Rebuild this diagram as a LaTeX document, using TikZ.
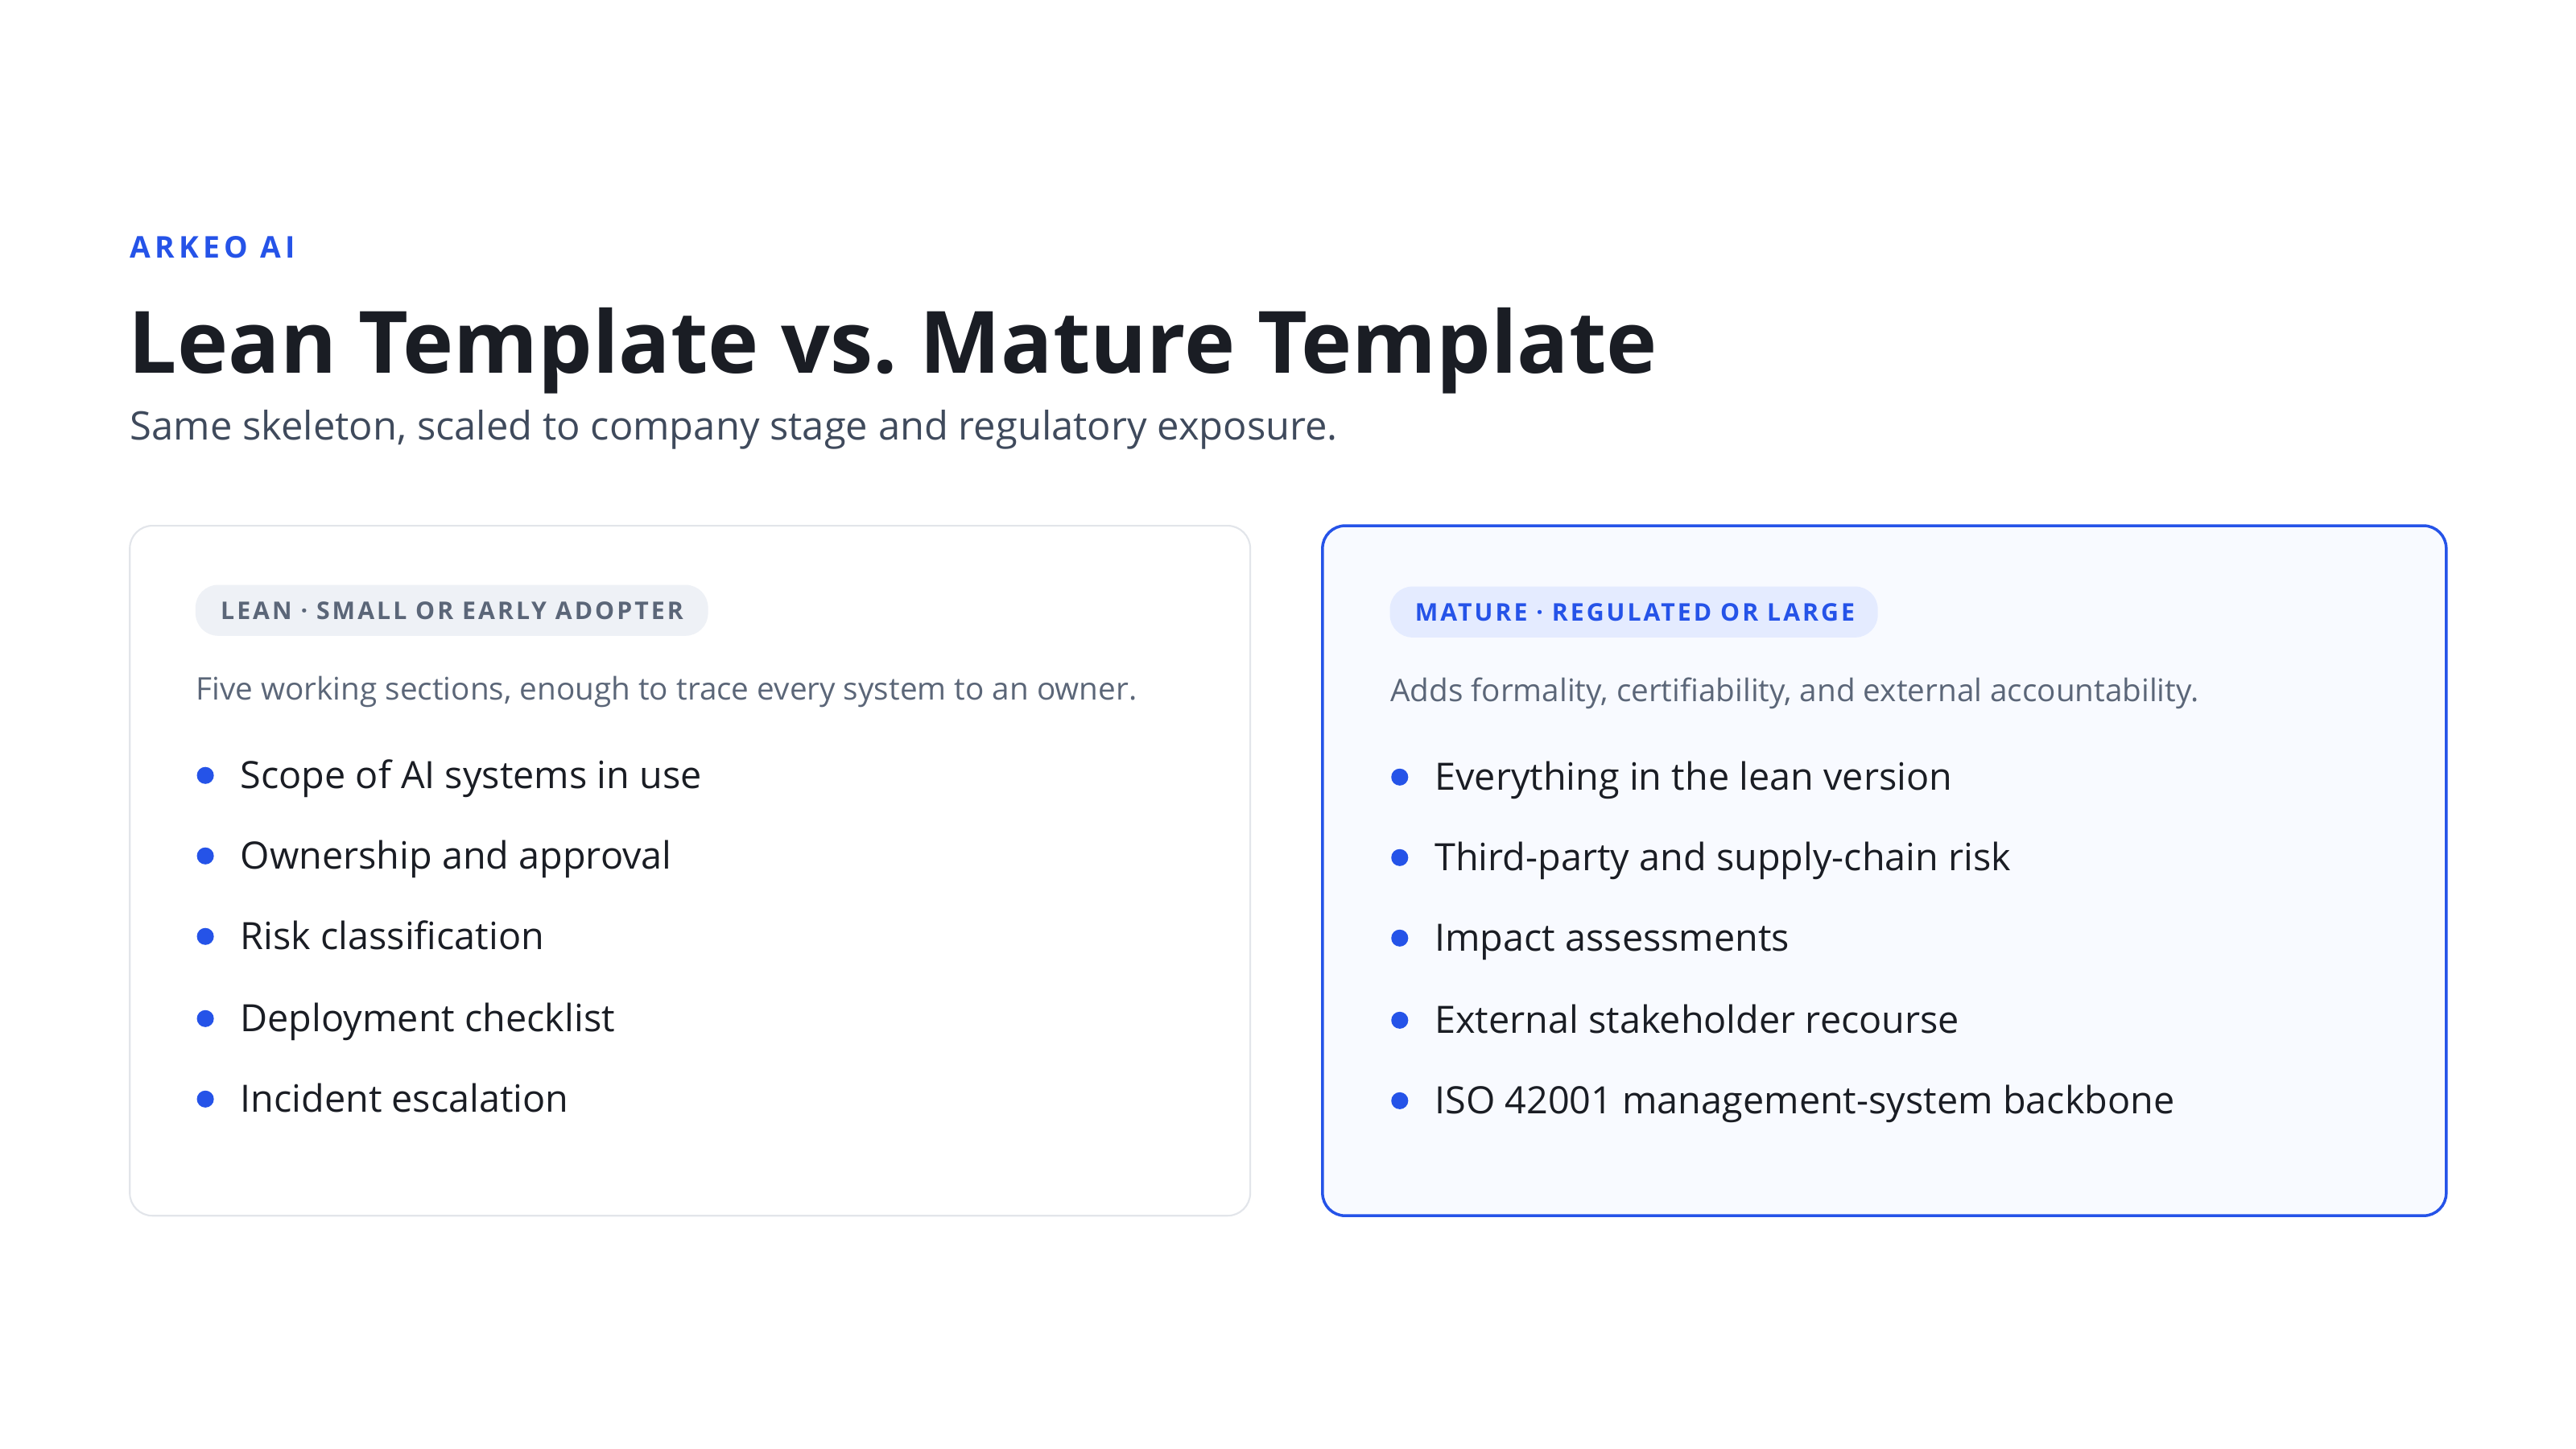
\documentclass[tikz,border=0pt]{standalone}
\usepackage{fontspec}
\setmainfont{Open Sans}
\newfontfamily\spaced[LetterSpace=10]{Open Sans}
\newfontfamily\widespaced[LetterSpace=14]{Open Sans}
\usetikzlibrary{positioning}
\definecolor{brandblue}{HTML}{2553E8}
\definecolor{ink}{HTML}{1A1D24}
\definecolor{slate}{HTML}{3F4A5C}
\definecolor{muted}{HTML}{5B6678}
\definecolor{cardline}{HTML}{E2E5EA}
\definecolor{pillgray}{HTML}{EEF1F6}
\definecolor{pillblue}{HTML}{E4EBFF}
\definecolor{tintbg}{HTML}{F8FAFF}
\begin{document}
\begin{tikzpicture}[x=0.020408cm,y=-0.020408cm,
    card/.style={rounded corners=8pt, line width=0.6pt},
    pill/.style={rounded corners=8pt, inner sep=0pt},
    txt/.style={anchor=base west, inner sep=0pt},
    dot/.style={circle, fill=brandblue, inner sep=0pt, minimum size=6pt}]

  % Canvas
  \useasboundingbox (0,0) rectangle (1568,882);

  % Heading
  \node[txt, text=brandblue] (brand) at (79,157) {\widespaced\fontsize{10.6}{12}\selectfont\bfseries ARKEO AI};
  \node[txt, text=ink] (title) at (78,227) {\fontsize{30.4}{36}\selectfont\bfseries Lean Template vs.\ Mature Template};
  \node[txt, text=slate] (subtitle) at (79,268) {\fontsize{13.9}{16}\selectfont Same skeleton, scaled to company stage and regulatory exposure.};

  % Cards
  \draw[card, draw=cardline, fill=white] (79,320) rectangle (761,740);
  \draw[card, draw=brandblue, fill=tintbg, line width=1pt] (805,320) rectangle (1489,740);

  % Pills
  \fill[pill, pillgray] (119,356) rectangle (431,387);
  \node[txt, text=muted] (leanpill) at (134,377) {\spaced\fontsize{8.6}{10}\selectfont\bfseries LEAN · SMALL OR EARLY ADOPTER};
  \fill[pill, pillblue] (846,357) rectangle (1143,388);
  \node[txt, text=brandblue] (maturepill) at (861,378) {\spaced\fontsize{8.6}{10}\selectfont\bfseries MATURE · REGULATED OR LARGE};

  % Descriptions
  \node[txt, text=muted] (leandesc) at (119,426) {\fontsize{11}{13}\selectfont Five working sections, enough to trace every system to an owner.};
  \node[txt, text=muted] (maturedesc) at (846,427) {\fontsize{11}{13}\selectfont Adds formality, certifiability, and external accountability.};

  % Lean bullets
  \foreach \y/\item [count=\i] in {472/Scope of AI systems in use, 521/Ownership and approval,
      570/Risk classification, 620/Deployment checklist, 669/Incident escalation}{
    \node[dot] (leandot\i) at (125,\y) {};
    \node[txt, text=ink] (leanitem\i) at (146,\y+8) {\fontsize{13.3}{16}\selectfont \item};
  }

  % Mature bullets
  \foreach \y/\item [count=\i] in {473/Everything in the lean version, 522/Third-party and supply-chain risk,
      571/Impact assessments, 621/External stakeholder recourse, 670/ISO 42001 management-system backbone}{
    \node[dot] (maturedot\i) at (852,\y) {};
    \node[txt, text=ink] (matureitem\i) at (873,\y+8) {\fontsize{13.3}{16}\selectfont \item};
  }

\end{tikzpicture}
\end{document}
